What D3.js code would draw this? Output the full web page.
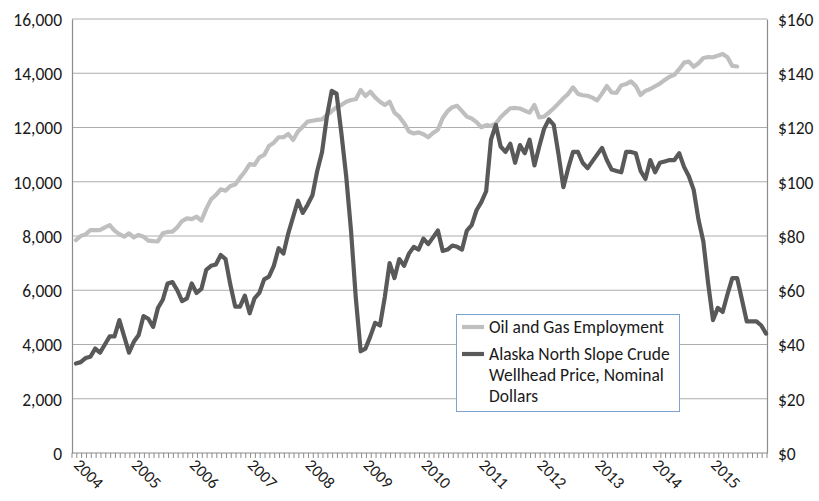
<!DOCTYPE html>
<html>
<head>
<meta charset="utf-8">
<script src="https://cdn.jsdelivr.net/npm/d3@7"></script>
<style>
  body { margin: 0; background: #fff; }
  svg text { font-family: Carlito, Lato, "Liberation Sans", sans-serif; fill: #1a1a1a; }
</style>
</head>
<body>
<svg id="chart" width="819" height="501"></svg>
<script>
// year labels on the category axis
var years = [2004, 2005, 2006, 2007, 2008, 2009, 2010, 2011, 2012, 2013, 2014, 2015];

// Alaska North Slope crude wellhead price, nominal $ (monthly, Jan 2004 - Dec 2015)
var price = [
  33, 33.5, 35, 35.5, 38.5, 37, 40, 43, 43, 49,
  43, 37, 41, 43.5, 50.5, 49.5, 46.5, 53.5, 56.5, 62.5,
  63, 60, 56, 57, 62.5, 59, 60.5, 67.5, 69, 69.5,
  73, 71.5, 62, 54, 54, 58, 51.5, 57, 59, 64,
  65, 69, 75.5, 73.5, 81, 87, 93, 88.5, 91.5, 95,
  104, 111, 124, 133.5, 132.5, 118, 102, 82, 57, 37.5,
  38.5, 43, 48, 47, 57.5, 70, 64.5, 71.5, 69, 73.5,
  76, 75, 79, 77, 79.5, 82, 74.5, 75, 76.5, 76,
  75, 82, 84, 89.5, 92.5, 96.5, 115.5, 121, 113, 111,
  114, 107, 113.5, 110.5, 115.5, 106, 113, 119.5, 123, 121,
  110, 98, 105, 111, 111, 107, 105, 107.5, 110, 112.5,
  108, 104.5, 104, 103.5, 111, 111, 110.5, 104, 101, 108,
  103.5, 107, 107.5, 108, 108, 110.5, 105.5, 102, 97, 86,
  78, 62.5, 49, 53.5, 52, 58.5, 64.5, 64.5, 56.5, 48.5,
  48.5, 48.5, 47, 44
];

// Oil and gas employment (monthly, Jan 2004 - Jun 2015)
var employment = [
  7850, 8000, 8060, 8220, 8220, 8220, 8320, 8400, 8200, 8070,
  7975, 8100, 7950, 8040, 7975, 7830, 7810, 7805, 8100, 8150,
  8160, 8320, 8550, 8650, 8620, 8710, 8570, 9000, 9350, 9510,
  9720, 9670, 9840, 9900, 10150, 10370, 10650, 10620, 10900, 10990,
  11320, 11440, 11640, 11640, 11760, 11540, 11850, 12030, 12215, 12250,
  12280, 12300, 12460, 12600, 12750, 12830, 12950, 13015, 13040, 13380,
  13160, 13320, 13110, 12950, 12830, 12950, 12550, 12400, 12160, 11850,
  11780, 11820, 11750, 11640, 11800, 11920, 12350, 12600, 12750, 12800,
  12600, 12400, 12330, 12200, 12010, 12090, 12060, 12150, 12380, 12550,
  12710, 12720, 12700, 12620, 12550, 12830, 12370, 12400, 12550, 12710,
  12890, 13080, 13240, 13480, 13240, 13190, 13170, 13100, 13000, 13250,
  13530, 13290, 13280, 13550, 13600, 13700, 13530, 13200, 13350, 13420,
  13520, 13620, 13750, 13870, 13940, 14150, 14390, 14430, 14240, 14370,
  14560, 14600, 14590, 14650, 14710, 14590, 14270, 14250
];

var leftTicks = [0, 2000, 4000, 6000, 8000, 10000, 12000, 14000, 16000];
var rightTicks = [0, 20, 40, 60, 80, 100, 120, 140, 160];

(function() {
var svg = d3.select("#chart");
var mLeft = 72, mRight = 767, mTop = 19, mBottom = 453;

var months = d3.range(price.length);
var x = d3.scalePoint().domain(months).range([mLeft + 1.5, mRight + 1.5]).padding(0.5);
var step = (mRight - mLeft) / price.length;
var yL = d3.scaleLinear().domain([0, 16000]).range([mBottom, mTop]);
var yR = d3.scaleLinear().domain([0, 160]).range([mBottom, mTop]);

// gridlines
svg.append("g").selectAll("line")
  .data(leftTicks.slice(1))
  .enter().append("line")
  .attr("x1", mLeft).attr("x2", mRight)
  .attr("y1", function(d) { return yL(d); })
  .attr("y2", function(d) { return yL(d); })
  .attr("stroke", "#adadad").attr("stroke-width", 1.2);

// left axis
var axL = svg.append("g").attr("transform", "translate(" + mLeft + ",0)")
  .call(d3.axisLeft(yL).tickValues(leftTicks).tickSize(0).tickPadding(10).tickFormat(d3.format(",")));
axL.select(".domain").attr("stroke", "#8c8c8c").attr("stroke-width", 1.2);
axL.selectAll("text").style("font-size", "17.5px").attr("dy", "0.36em");

// right axis
var axR = svg.append("g").attr("transform", "translate(" + mRight + ",0)")
  .call(d3.axisRight(yR).tickValues(rightTicks).tickSize(0).tickPadding(11).tickFormat(function(d) { return "$" + d; }));
axR.select(".domain").attr("stroke", "#8c8c8c").attr("stroke-width", 1.2);
axR.selectAll("text").style("font-size", "17.5px").attr("dy", "0.36em");

// bottom axis with monthly ticks
var bx = svg.append("g");
bx.append("line").attr("x1", mLeft).attr("x2", mRight).attr("y1", mBottom).attr("y2", mBottom)
  .attr("stroke", "#8c8c8c").attr("stroke-width", 1.2);
bx.selectAll(".mt").data(d3.range(price.length + 1)).enter().append("line")
  .attr("x1", function(d) { return mLeft + d * step; })
  .attr("x2", function(d) { return mLeft + d * step; })
  .attr("y1", mBottom).attr("y2", mBottom + 5)
  .attr("stroke", "#8c8c8c").attr("stroke-width", 1);
bx.selectAll(".yl").data(years).enter().append("text")
  .attr("transform", function(d, i) {
    return "translate(" + (x(i * 12) - 3) + "," + (mBottom + 13) + ") rotate(45)";
  })
  .style("font-size", "16.5px")
  .attr("text-anchor", "start")
  .text(function(d) { return d; });

// lines
var lineEmp = d3.line().x(function(d, i) { return x(i); }).y(function(d) { return yL(d); });
var linePrice = d3.line().x(function(d, i) { return x(i); }).y(function(d) { return yR(d); });

svg.append("path").datum(employment)
  .attr("d", lineEmp).attr("fill", "none")
  .attr("stroke", "#bfbfbf").attr("stroke-width", 4.2)
  .attr("stroke-linejoin", "round").attr("stroke-linecap", "round");

svg.append("path").datum(price)
  .attr("d", linePrice).attr("fill", "none")
  .attr("stroke", "#595959").attr("stroke-width", 4.2)
  .attr("stroke-linejoin", "round").attr("stroke-linecap", "round");

// legend
var lg = svg.append("g");
lg.append("rect").attr("x", 456.5).attr("y", 314.5).attr("width", 223).attr("height", 97)
  .attr("fill", "#fff").attr("stroke", "#7da2d4").attr("stroke-width", 1);
lg.append("line").attr("x1", 462).attr("x2", 484).attr("y1", 327).attr("y2", 327)
  .attr("stroke", "#bfbfbf").attr("stroke-width", 4.2);
lg.append("line").attr("x1", 462).attr("x2", 484).attr("y1", 354).attr("y2", 354)
  .attr("stroke", "#595959").attr("stroke-width", 4.2);
lg.append("text").attr("x", 489).attr("y", 333).style("font-size", "17.5px").text("Oil and Gas Employment");
var lbl = ["Alaska North Slope Crude", "Wellhead Price, Nominal", "Dollars"];
lg.selectAll(".lt").data(lbl).enter().append("text")
  .attr("x", 489).attr("y", function(d, i) { return 360 + i * 21; })
  .style("font-size", "17.5px").text(function(d) { return d; });
})();
</script>
</body>
</html>
